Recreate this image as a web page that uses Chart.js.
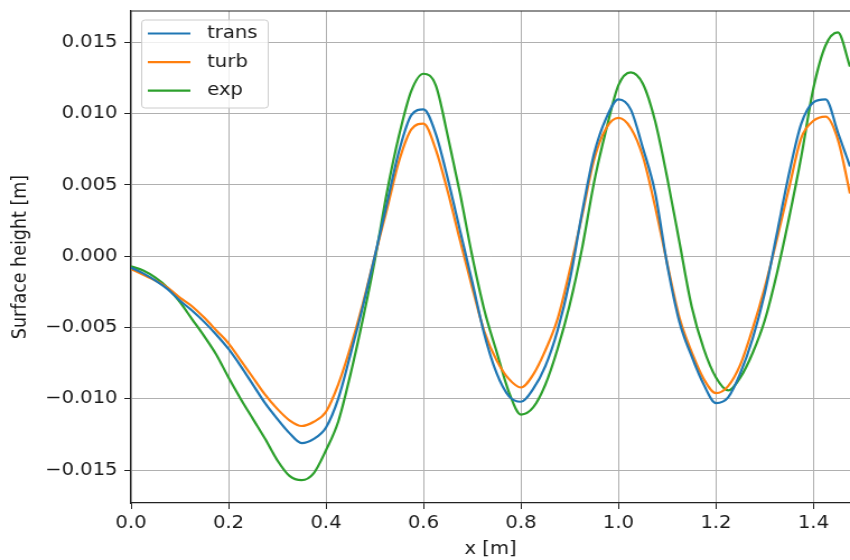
<!DOCTYPE html>
<html lang="en">
<head>
<meta charset="UTF-8">
<title>Surface height</title>
<script src="https://cdn.jsdelivr.net/npm/chart.js"></script>
<style>
  body { margin: 0; background: #fff; }
  #wrap { width: 850px; height: 560px; overflow: hidden; }
  #surf { display: block; }
</style>
</head>
<body>
<!-- the reference figure is stretched sideways, so draw 759px wide and show it at 850px -->
<div id="wrap"><canvas id="surf" width="759" height="560" style="width:850px;height:560px"></canvas></div>
<script>
  const xs = [0, 0.025, 0.05, 0.075, 0.1, 0.125, 0.15, 0.175, 0.2, 0.225,
    0.25, 0.275, 0.3, 0.325, 0.35, 0.375, 0.4, 0.425, 0.45, 0.475,
    0.5, 0.525, 0.55, 0.575, 0.6, 0.625, 0.65, 0.675, 0.7, 0.725,
    0.75, 0.775, 0.8, 0.825, 0.85, 0.875, 0.9, 0.925, 0.95, 0.975,
    1.0, 1.025, 1.05, 1.075, 1.1, 1.125, 1.15, 1.175, 1.2, 1.225,
    1.25, 1.275, 1.3, 1.325, 1.35, 1.375, 1.4, 1.425, 1.45, 1.475];

  const trans = [-0.0008, -0.0012, -0.0017, -0.0023, -0.0031, -0.0038, -0.0046, -0.0055, -0.0065, -0.0077,
    -0.0090, -0.0103, -0.0114, -0.0124, -0.0131, -0.0128, -0.0120, -0.0100, -0.0069, -0.0036,
    0.0000, 0.0037, 0.0074, 0.0099, 0.0103, 0.0086, 0.0054, 0.0018, -0.0018, -0.0055,
    -0.0082, -0.0098, -0.0102, -0.0093, -0.0077, -0.0052, -0.0017, 0.0030, 0.0072, 0.0097,
    0.0110, 0.0103, 0.0076, 0.0045, -0.0006, -0.0046, -0.0070, -0.0090, -0.0103, -0.0099,
    -0.0082, -0.0058, -0.0026, 0.0016, 0.0058, 0.0093, 0.0108, 0.0110, 0.0087, 0.0063];

  const turb = [-0.0009, -0.0013, -0.0017, -0.0022, -0.0029, -0.0035, -0.0043, -0.0052, -0.0061, -0.0073,
    -0.0085, -0.0097, -0.0107, -0.0115, -0.0119, -0.0116, -0.0109, -0.0090, -0.0064, -0.0034,
    0.0000, 0.0033, 0.0067, 0.0089, 0.0093, 0.0075, 0.0045, 0.0011, -0.0022, -0.0053,
    -0.0073, -0.0086, -0.0092, -0.0083, -0.0066, -0.0044, -0.0010, 0.0028, 0.0068, 0.0090,
    0.0097, 0.0090, 0.0070, 0.0035, -0.0005, -0.0043, -0.0067, -0.0086, -0.0096, -0.0091,
    -0.0076, -0.0051, -0.0022, 0.0012, 0.0048, 0.0083, 0.0095, 0.0098, 0.0082, 0.0044];

  const exp = [-0.0007, -0.0010, -0.0015, -0.0022, -0.0032, -0.0044, -0.0056, -0.0069, -0.0085, -0.0100,
    -0.0114, -0.0128, -0.0143, -0.0154, -0.0157, -0.0152, -0.0136, -0.0116, -0.0083, -0.0045,
    -0.0003, 0.0045, 0.0085, 0.0116, 0.0128, 0.0120, 0.0084, 0.0044, 0.0000, -0.0038,
    -0.0067, -0.0095, -0.0111, -0.0106, -0.0090, -0.0065, -0.0034, 0.0005, 0.0052, 0.0089,
    0.0120, 0.0129, 0.0121, 0.0095, 0.0055, 0.0010, -0.0035, -0.0065, -0.0085, -0.0094,
    -0.0085, -0.0068, -0.0045, -0.0012, 0.0027, 0.0070, 0.0118, 0.0148, 0.0157, 0.0133];

  const xTicks = [0, 0.2, 0.4, 0.6, 0.8, 1.0, 1.2, 1.4];
  const yTicks = [-0.015, -0.010, -0.005, 0, 0.005, 0.010, 0.015];

  const SPINE = '#222';
  Chart.defaults.font.family = "'DejaVu Sans', sans-serif";
  Chart.defaults.font.size = 17.5;
  Chart.defaults.color = '#1a1a1a';

  function pts(ys) { return xs.map((x, i) => ({ x: x, y: ys[i] })); }
  function minus(s) { return s.replace('-', '\u2212'); }

  // top spine + matplotlib style legend box inside the axes
  const frame = {
    id: 'frame',
    afterDraw(chart) {
      const { ctx, chartArea: a } = chart;
      ctx.save();
      ctx.strokeStyle = SPINE;
      ctx.lineWidth = 1.2;
      ctx.beginPath();
      ctx.moveTo(a.left, a.top);
      ctx.lineTo(a.right, a.top);
      ctx.stroke();

      const bx = 126.5, by = 20, bw = 113, bh = 88;
      ctx.fillStyle = 'rgba(255,255,255,0.8)';
      ctx.strokeStyle = '#cccccc';
      ctx.lineWidth = 1;
      ctx.beginPath();
      ctx.roundRect(bx, by, bw, bh, 3);
      ctx.fill();
      ctx.stroke();

      ctx.font = "17.5px 'DejaVu Sans'";
      ctx.textBaseline = 'middle';
      ctx.textAlign = 'left';
      chart.data.datasets.forEach((ds, i) => {
        const y = 33.5 + i * 28.6;
        ctx.strokeStyle = ds.borderColor;
        ctx.lineWidth = 2.2;
        ctx.beginPath();
        ctx.moveTo(132, y);
        ctx.lineTo(170, y);
        ctx.stroke();
        ctx.fillStyle = '#1a1a1a';
        ctx.fillText(ds.label, 185, y);
      });
      ctx.restore();
    }
  };

  const line = (label, ys, color) => ({
    label: label,
    data: pts(ys),
    borderColor: color,
    backgroundColor: color,
    borderWidth: 2.2,
    pointRadius: 0,
    cubicInterpolationMode: 'monotone',
    fill: false
  });

  new Chart(document.getElementById('surf'), {
    type: 'line',
    data: {
      datasets: [
        line('trans', trans, '#1f77b4'),
        line('turb', turb, '#ff7f0e'),
        line('exp', exp, '#2ca02c')
      ]
    },
    options: {
      responsive: false,
      animation: false,
      layout: { padding: { top: 11, left: 0, right: 0, bottom: 0 } },
      plugins: { legend: { display: false }, tooltip: { enabled: false } },
      scales: {
        x: {
          type: 'linear',
          min: 0,
          max: 1.475,
          afterBuildTicks: s => { s.ticks = xTicks.map(v => ({ value: v })); },
          afterFit: s => { s.height = 57; s.paddingLeft = 0; s.paddingRight = 0; },
          ticks: { padding: 4, maxRotation: 0, callback: v => v.toFixed(1) },
          grid: { color: '#b0b0b0', lineWidth: 1, tickColor: SPINE, tickLength: 6 },
          border: { color: SPINE, width: 1.2 },
          title: { display: true, text: 'x [m]', padding: { top: 0, bottom: 0 } }
        },
        y: {
          min: -0.0173,
          max: 0.0172,
          afterBuildTicks: s => { s.ticks = yTicks.map(v => ({ value: v })); },
          afterFit: s => { s.width = 117; s.paddingTop = 0; s.paddingBottom = 0; },
          ticks: {
            padding: 6,
            callback: v => Math.abs(v) < 1e-9 ? '0.000' : minus(v.toFixed(3))
          },
          grid: { color: '#b0b0b0', lineWidth: 1, tickColor: SPINE, tickLength: 6 },
          border: { color: SPINE, width: 1.2 },
          title: { display: true, text: 'Surface height [m]', padding: { top: 8, bottom: 0 } }
        }
      }
    },
    plugins: [frame]
  });
</script>
</body>
</html>
